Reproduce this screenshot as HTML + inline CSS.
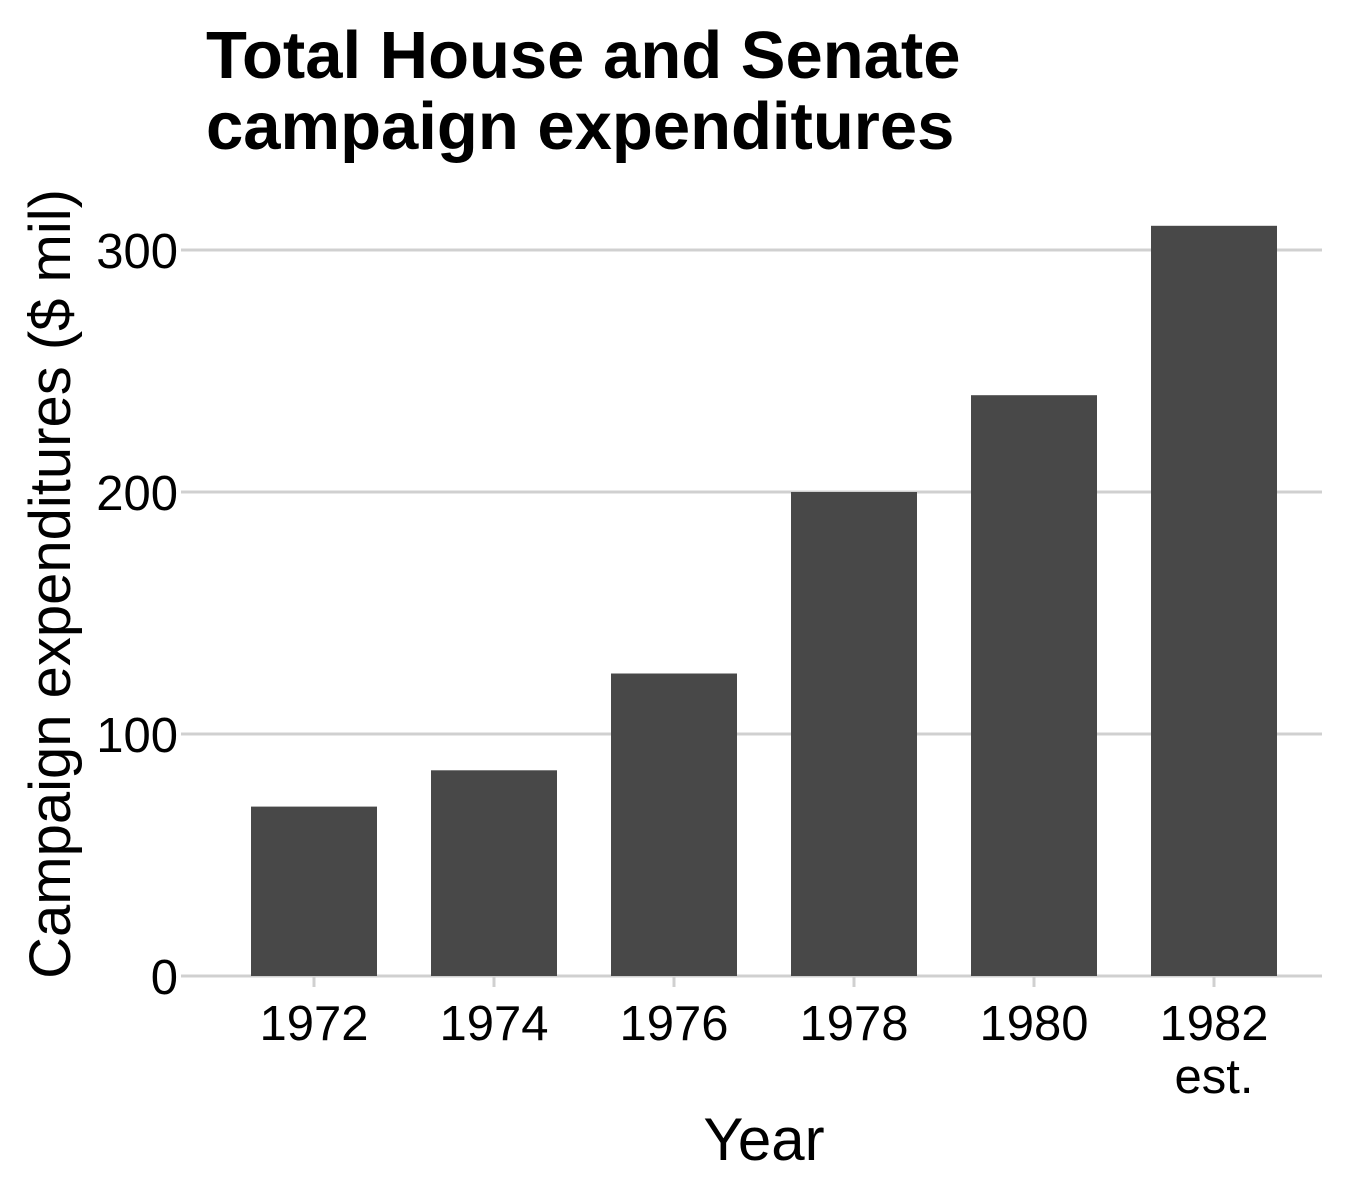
<!DOCTYPE html>
<html><head><meta charset="utf-8"><style>
html,body{margin:0;padding:0;background:#fff;}
svg{display:block;font-family:"Liberation Sans",Arial,sans-serif;}
</style></head><body>
<svg id="chart" width="1350" height="1200" viewBox="0 0 1350 1200">
<text x="206" y="78" font-size="67" font-weight="bold" fill="#000">Total House and Senate</text>
<text x="206" y="149" font-size="67" font-weight="bold" fill="#000">campaign expenditures</text>
<g id="grid"></g><g id="bars"></g><g id="xaxis"></g><g id="yaxis"></g>
<text x="764" y="1160" font-size="60" text-anchor="middle" fill="#000">Year</text>
<text transform="translate(70,584) rotate(-90)" font-size="58" text-anchor="middle" fill="#000">Campaign expenditures ($ mil)</text>
</svg>
<script>
const categories = ["1972","1974","1976","1978","1980","1982"];
const subLabels = ["","","","","","est."];
const values = [70,85,125,200,240,310];
const yTicks = [0,100,200,300];
const NS="http://www.w3.org/2000/svg";
const y0=976, pxPer=2.42, x0=314, step=180, bw=126;
const yScale=v=>y0-v*pxPer;
const xScale=i=>x0+i*step;
function mk(tag,attrs,parent){const e=document.createElementNS(NS,tag);for(const k in attrs)e.setAttribute(k,attrs[k]);parent.appendChild(e);return e;}
const grid=document.getElementById('grid'),bars=document.getElementById('bars'),xa=document.getElementById('xaxis'),ya=document.getElementById('yaxis');
yTicks.forEach(t=>{
  const y=yScale(t);
  const l=mk('line',{x1:192,x2:1322,y1:y,y2:y,stroke:'#d0d0d0','stroke-width':3},grid);
  
  
  const tk=mk('line',{x1:181,x2:192,y1:y,y2:y,stroke:'#d0d0d0','stroke-width':3},ya);
  
  
  const tx=mk('text',{x:178,y:y+18,'font-size':49,'text-anchor':'end',fill:'#000'},ya);
  tx.textContent=t;
  
  
});
categories.forEach((c,i)=>{
  const cx=xScale(i);
  const r=mk('rect',{x:cx-bw/2,y:yScale(values[i]),width:bw,height:values[i]*pxPer,fill:'#484848'},bars);
  
  
  const tk=mk('line',{x1:cx,x2:cx,y1:y0,y2:y0+11,stroke:'#d0d0d0','stroke-width':3},xa);
  
  
  const tx=mk('text',{x:cx,y:1040,'font-size':49,'text-anchor':'middle',fill:'#000'},xa);
  tx.textContent=c;
  
  
  if(subLabels[i]){
    const s=mk('text',{x:cx,y:1093,'font-size':49,'text-anchor':'middle',fill:'#000'},xa);
    s.textContent=subLabels[i];
    
    
  }
});
</script>
</body></html>
